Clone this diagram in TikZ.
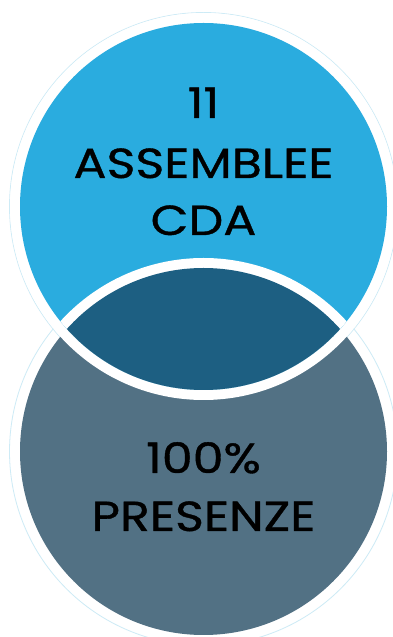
\documentclass[tikz,border=0pt]{standalone}
\usepackage{fontspec}
\setmainfont{Poppins}[FakeStretch=1.17,FakeBold=0.9]
\definecolor{topblue}{HTML}{2AACDF}
\definecolor{lensblue}{HTML}{1D5F82}
\definecolor{botgrey}{HTML}{527184}
\definecolor{faint}{HTML}{CDEBF6}
\begin{document}
\begin{tikzpicture}[x=1pt,y=1pt,
  faintring/.style={draw=faint,line width=0.8pt},
  label/.style={anchor=base,inner sep=0pt,font=\fontsize{42}{42}\selectfont,text=black}]
\useasboundingbox (0,0) rectangle (392,637);
\fill[white] (0,0) rectangle (392,637);
\coordinate (ct) at (203.5,430.5);
\coordinate (cb) at (203.5,185.5);
% faint outer rings
\draw[faintring] (ct) circle (194);
\draw[faintring] (cb) circle (194);
% bottom circle
\fill[botgrey] (cb) circle (183.5);
% top circle with white band
\fill[white] (ct) circle (193.5);
\fill[topblue] (ct) circle (183.5);
% lens
\begin{scope}
  \clip (ct) circle (183.5);
  \fill[white] (cb) circle (193.5);
  \fill[lensblue] (cb) circle (183.5);
\end{scope}
% texts
\node[label] (t1) at (203.5,519) {11};
\node[label] (t2) at (203.5,459) {ASSEMBLEE};
\node[label] (t3) at (203.5,402) {CDA};
\node[label] (b1) at (203.5,164) {100\%};
\node[label] (b2) at (203.5,106) {PRESENZE};
\end{tikzpicture}
\end{document}
